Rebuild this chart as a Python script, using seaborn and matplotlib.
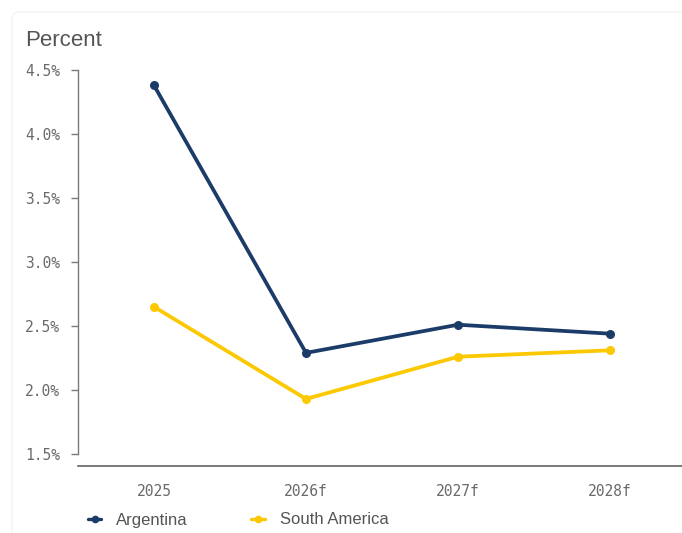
import matplotlib
matplotlib.use("Agg")
import matplotlib.pyplot as plt
from matplotlib.patches import FancyBboxPatch
import pandas as pd
import seaborn as sns

years = ["2025", "2026f", "2027f", "2028f"]
argentina = [4.38, 2.29, 2.51, 2.44]
south_america = [2.65, 1.93, 2.26, 2.31]
series_names = ["Argentina", "South America"]
y_ticks = [1.5, 2.0, 2.5, 3.0, 3.5, 4.0, 4.5]

colors = {"Argentina": "#1b3b68", "South America": "#fcc800"}

df = pd.DataFrame({
    "year": years * 2,
    "value": argentina + south_america,
    "series": [series_names[0]] * len(years) + [series_names[1]] * len(years),
})

sns.set_style("white")
plt.rcParams["font.family"] = ["Liberation Sans", "DejaVu Sans"]

W, H = 682, 533
fig = plt.figure(figsize=(W / 100, H / 100), dpi=100)

# faint card outline behind the chart
card = FancyBboxPatch((12 / W, -0.05), 1.2, 1.0 - 12 / H + 0.05,
                      boxstyle="round,pad=0,rounding_size=0.012",
                      transform=fig.transFigure, facecolor="none",
                      edgecolor="#f4f4f4", linewidth=1.0, zorder=-10)
fig.patches.append(card)

left, right = 78 / W, 686 / W
bottom, top = 1 - 454 / H, 1 - 70 / H
ax = fig.add_axes([left, bottom, right - left, top - bottom])
ax.set_facecolor("none")
ax.set_zorder(5)

sns.lineplot(data=df, x="year", y="value", hue="series", palette=colors,
             marker="o", markersize=6.5, markeredgewidth=0, linewidth=2.7,
             sort=False, ax=ax, legend=False)

ax.set_xlim(-0.5, 3.5)
ax.set_ylim(1.5, 4.5)
ax.set_yticks(y_ticks)
ax.set_yticklabels([f"{v:.1f}%" for v in y_ticks])
ax.set_xlabel("")
ax.set_ylabel("")

for s in ["top", "right"]:
    ax.spines[s].set_visible(False)
ax.spines["left"].set_color("#7a7a7a")
ax.spines["left"].set_linewidth(1.0)
ax.spines["bottom"].set_position(("outward", 8.6))
ax.spines["bottom"].set_color("#555555")
ax.spines["bottom"].set_linewidth(1.1)

mono = ["DejaVu Sans Mono"]
ax.tick_params(axis="y", length=5, width=1.0, color="#7a7a7a", pad=8,
               labelsize=10.5, labelcolor="#6a6a6a", left=True)
ax.tick_params(axis="x", length=0, pad=13, labelsize=10.5, labelcolor="#6a6a6a")
for lab in ax.get_yticklabels() + ax.get_xticklabels():
    lab.set_family(mono)

fig.text(25 / W, 1 - 40 / H, "Percent", fontsize=16, color="#555555",
         va="center", ha="left")

# legend along the bottom
handles = [plt.Line2D([], [], color=colors[n], marker="o", markersize=5.5,
                      markeredgewidth=0, linewidth=2.4) for n in series_names]
fig.legend(handles, series_names, loc="center left",
           bbox_to_anchor=(88 / W, 1 - 520 / H), ncol=2, frameon=False,
           handlelength=0.8, handletextpad=0.9, columnspacing=3.8,
           fontsize=12, labelcolor="#555555", borderaxespad=0, borderpad=0)

fig.savefig("out.png", dpi=100)
